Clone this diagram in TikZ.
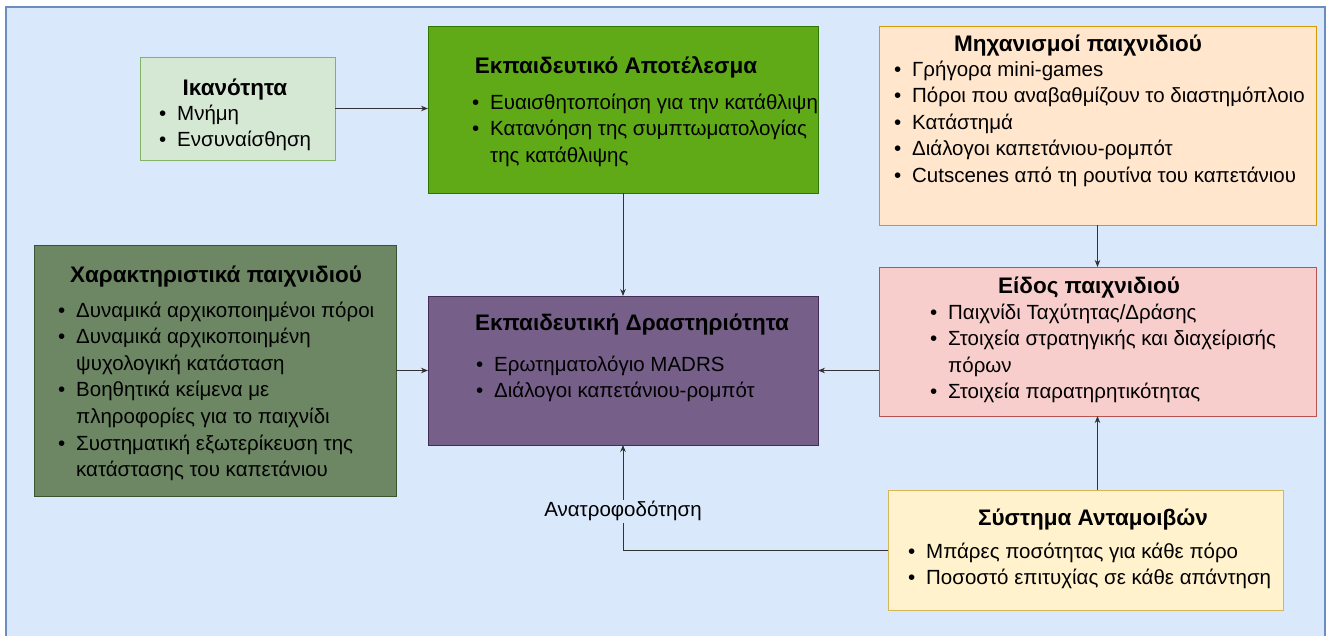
\documentclass[tikz,border=0pt]{standalone}
\usepackage{fontspec}
\setmainfont{Liberation Sans}
\usetikzlibrary{arrows.meta}
\definecolor{bgfill}{HTML}{DAE8FC}
\definecolor{bgdraw}{HTML}{6C8EBF}
\definecolor{ikfill}{HTML}{D5E8D4}
\definecolor{ikdraw}{HTML}{82B366}
\definecolor{apfill}{HTML}{60A917}
\definecolor{apdraw}{HTML}{2D7600}
\definecolor{mxfill}{HTML}{FFE6CC}
\definecolor{mxdraw}{HTML}{D79B00}
\definecolor{chfill}{HTML}{6D8764}
\definecolor{chdraw}{HTML}{3A5431}
\definecolor{drfill}{HTML}{76608A}
\definecolor{drdraw}{HTML}{432D57}
\definecolor{eifill}{HTML}{F8CECC}
\definecolor{eidraw}{HTML}{B85450}
\definecolor{syfill}{HTML}{FFF2CC}
\definecolor{sydraw}{HTML}{D6B656}
\newcommand{\blist}[1]{\begin{tabular}[t]{@{}p{18pt}@{}l@{}}#1\end{tabular}}
\tikzset{
  boxnode/.style={rectangle, inner sep=0pt, outer sep=0pt, line width=1pt, anchor=north west},
  titlenode/.style={anchor=base, inner sep=0pt, font=\fontsize{22.5}{27}\selectfont\bfseries},
  listnode/.style={anchor=base west, inner sep=0pt, font=\fontsize{20.5}{26.6}\selectfont},
  conn/.style={draw=black!80, line width=0.8pt, -{Stealth[length=7pt,width=5.5pt]}},
  lbl/.style={fill=bgfill, inner sep=2pt, font=\fontsize{20.5}{24}\selectfont}
}
\begin{document}
\begin{tikzpicture}[x=1pt,y=-1pt]
\useasboundingbox (0,0) rectangle (1326,635);
\fill[white] (0,0) rectangle (1326,635);
\draw[fill=bgfill, draw=bgdraw, line width=1.2pt] (6,7) rectangle (1325,660);

% boxes
\node[boxnode, fill=ikfill, draw=ikdraw, minimum width=195pt, minimum height=103pt] (ik) at (140,57) {};
\node[boxnode, fill=apfill, draw=apdraw, minimum width=390pt, minimum height=167pt] (ap) at (428,26) {};
\node[boxnode, fill=mxfill, draw=mxdraw, minimum width=437pt, minimum height=199pt] (mx) at (879,26) {};
\node[boxnode, fill=chfill, draw=chdraw, minimum width=362pt, minimum height=251pt] (ch) at (34,245) {};
\node[boxnode, fill=drfill, draw=drdraw, minimum width=390pt, minimum height=149pt] (dr) at (428,296) {};
\node[boxnode, fill=eifill, draw=eidraw, minimum width=437pt, minimum height=149pt] (ei) at (879,267) {};
\node[boxnode, fill=syfill, draw=sydraw, minimum width=395pt, minimum height=120pt] (sy) at (888,490) {};

% texts
\node[titlenode] (ikt) at (235,95) {Ικανότητα};
\node[listnode] (ikl) at (159,120) {\blist{• & Μνήμη\\ • & Ενσυναίσθηση}};

\node[titlenode] (apt) at (616,73.5) {Εκπαιδευτικό Αποτέλεσμα};
\node[listnode] (apl) at (472,109) {\blist{• & Ευαισθητοποίηση για την κατάθλιψη\\ • & Κατανόηση της συμπτωματολογίας\\ & της κατάθλιψης}};

\node[titlenode] (mxt) at (1078,51.5) {Μηχανισμοί παιχνιδιού};
\node[listnode] (mxl) at (894,76) {\blist{• & Γρήγορα mini-games\\ • & Πόροι που αναβαθμίζουν το διαστημόπλοιο\\ • & Κατάστημά\\ • & Διάλογοι καπετάνιου-ρομπότ\\ • & Cutscenes από τη ρουτίνα του καπετάνιου}};

\node[titlenode] (cht) at (216,282.5) {Χαρακτηριστικά παιχνιδιού};
\node[listnode] (chl) at (58,317) {\blist{• & Δυναμικά αρχικοποιημένοι πόροι\\ • & Δυναμικά αρχικοποιημένη\\ & ψυχολογική κατάσταση\\ • & Βοηθητικά κείμενα με\\ & πληροφορίες για το παιχνίδι\\ • & Συστηματική εξωτερίκευση της\\ & κατάστασης του καπετάνιου}};

\node[titlenode] (drt) at (632,330.5) {Εκπαιδευτική Δραστηριότητα};
\node[listnode] (drl) at (476,371) {\blist{• & Ερωτηματολόγιο MADRS\\ • & Διάλογοι καπετάνιου-ρομπότ}};

\node[titlenode] (eit) at (1089,293.5) {Είδος παιχνιδιού};
\node[listnode] (eil) at (930,319) {\blist{• & Παιχνίδι Ταχύτητας/Δράσης\\ • & Στοιχεία στρατηγικής και διαχείρισής\\ & πόρων\\ • & Στοιχεία παρατηρητικότητας}};

\node[titlenode] (syt) at (1093,525.5) {Σύστημα Ανταμοιβών};
\node[listnode] (syl) at (908,558) {\blist{• & Μπάρες ποσότητας για κάθε πόρο\\ • & Ποσοστό επιτυχίας σε κάθε απάντηση}};

% connectors
\draw[conn] (ik.east) -- (ik.east -| ap.west);
\draw[conn] (ap.south) -- (dr.north);
\draw[conn] (ch.east |- dr.west) -- (dr.west);
\draw[conn] (mx.south) -- (mx.south |- ei.north);
\draw[conn] (dr.east -| ei.west) -- (dr.east);
\draw[conn] (ei.south |- sy.north) -- (ei.south);
\draw[conn] (sy.west) -| node[lbl, pos=0.684] (fb) {Ανατροφοδότηση} (dr.south);
\end{tikzpicture}
\end{document}
